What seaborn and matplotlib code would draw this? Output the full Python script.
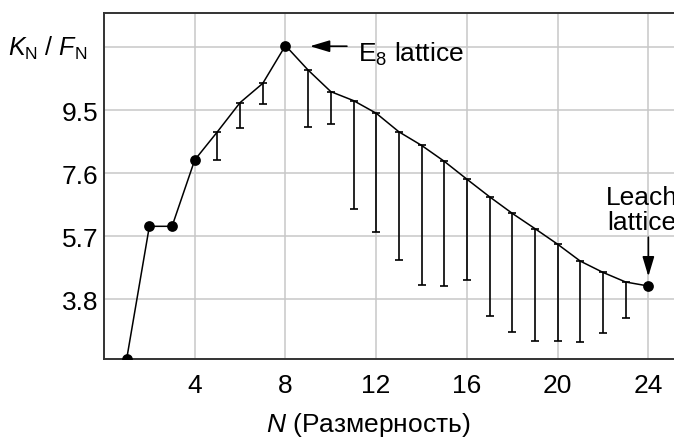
import numpy as np
import pandas as pd
import seaborn as sns
import matplotlib.pyplot as plt

# K_N / F_N against dimension N
dims = list(range(1, 25))
ratio = [2.0, 6.0, 6.0, 8.0, 8.85, 9.73, 10.31, 11.45, 10.71, 10.06, 9.79, 9.41,
         8.85, 8.44, 7.96, 7.42, 6.89, 6.39, 5.93, 5.46, 4.95, 4.61, 4.32, 4.20]

# lower bounds drawn as one-sided error bars
err_dims = [5, 6, 7, 9, 10, 11, 12, 13, 14, 15, 16, 17, 18, 19, 20, 21, 22, 23]
err_low = [7.99, 8.96, 9.68, 8.98, 9.07, 6.51, 5.83, 4.98, 4.23, 4.19, 4.38,
           3.30, 2.81, 2.54, 2.54, 2.52, 2.77, 3.23]

marked_dims = [1, 2, 3, 4, 8, 24]

xticks = [4, 8, 12, 16, 20, 24]
yticks = [3.8, 5.7, 7.6, 9.5, 11.4]
ytick_labels = ["3.8", "5.7", "7.6", "9.5", ""]

sns.set_style("whitegrid", {"grid.color": "#c8c8c8", "axes.edgecolor": "#333333",
                            "text.color": "black", "xtick.color": "black",
                            "ytick.color": "black", "axes.labelcolor": "black"})
plt.rcParams['font.family'] = ['Liberation Sans', 'DejaVu Sans']
plt.rcParams['mathtext.fontset'] = 'custom'
plt.rcParams['mathtext.rm'] = 'Liberation Sans'
plt.rcParams['mathtext.it'] = 'Liberation Sans:italic'

FS = 19

fig = plt.figure(figsize=(6.74, 4.39), dpi=100)
ax = fig.add_axes([0.1543, 0.18, 0.8457, 0.788])

df = pd.DataFrame({"N": dims, "ratio": ratio})
sns.lineplot(data=df, x="N", y="ratio", color="black", lw=1.1, ax=ax)

top = df.set_index("N").loc[err_dims, "ratio"].values
low = np.array(err_low)
ax.errorbar(err_dims, top, yerr=[top - low, np.zeros_like(low)], fmt="none",
            ecolor="black", elinewidth=1.2, capsize=3, capthick=1.2)

sns.scatterplot(data=df[df["N"].isin(marked_dims)], x="N", y="ratio", color="black",
                s=60, edgecolor="black", linewidth=0, ax=ax, zorder=5)

ax.set_xlim(0, 25.13)
ax.set_ylim(2.0, 12.43)
ax.set_xticks(xticks)
ax.set_yticks(yticks)
ax.set_yticklabels(ytick_labels)
ax.tick_params(axis="x", length=0, pad=10, labelsize=FS, labelcolor="black")
ax.tick_params(axis="y", length=0, pad=4, labelsize=FS, labelcolor="black")
ax.grid(True, lw=1.1)
ax.spines["right"].set_visible(False)
for s in ["left", "bottom", "top"]:
    ax.spines[s].set_linewidth(1.4)

# y-axis quantity label sits in place of the 11.4 tick
ax.text(-0.0298, 11.4, r"$K_{\mathrm{N}}$ / $F_{\mathrm{N}}$", fontsize=18,
        color="black", ha="right", va="center", transform=ax.get_yaxis_transform())

ax.set_xlabel(r"$N$ (Размерность)", fontsize=FS, color="black")
ax.xaxis.set_label_coords(0.464, -0.148, transform=ax.transAxes)
ax.xaxis.label.set_va("top")
ax.set_ylabel("")

arrow = dict(arrowstyle="-|>,head_length=1.0,head_width=0.3", color="black",
             lw=1.2, mutation_scale=12, shrinkA=0, shrinkB=0)
ax.annotate("", xy=(9.08, 11.43), xytext=(10.71, 11.43), arrowprops=arrow)
ax.text(11.2, 10.98, r"E$_8$ lattice", fontsize=FS, color="black",
        va="baseline", ha="left")

ax.annotate("", xy=(24, 4.49), xytext=(24, 5.67), arrowprops=arrow)
ax.text(23.70, 5.91, "Leach\nlattice", fontsize=FS, color="black", va="baseline",
        ha="center", linespacing=1.05)

fig.savefig("out.png", dpi=100)
